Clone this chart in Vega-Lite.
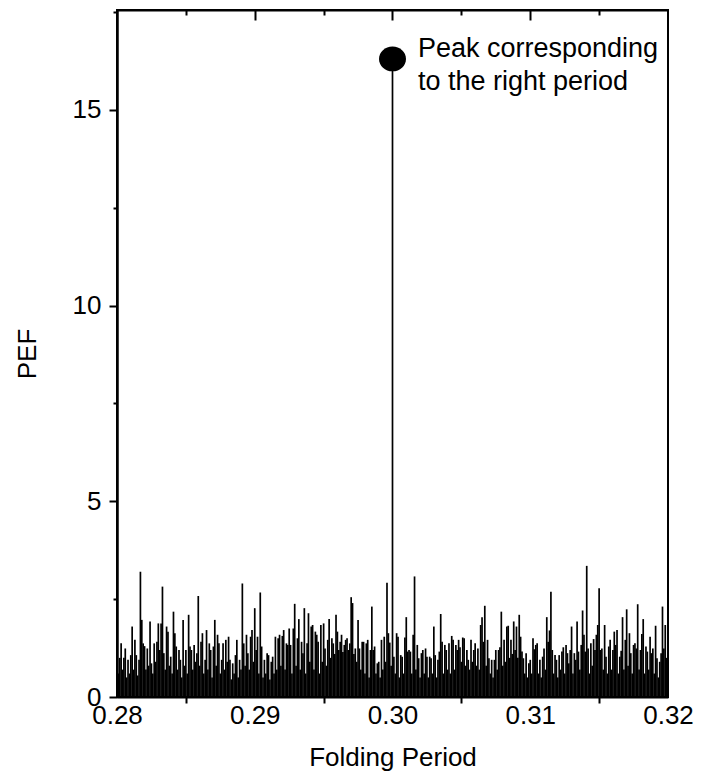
{
"$schema": "https://vega.github.io/schema/vega-lite/v6.json",
"width": 551,
"height": 687,
"autosize": {"type": "none"},
"padding": {"left": 117, "top": 10, "right": 41, "bottom": 80},
"background": "white",
"config": {"view": {"stroke": "black", "strokeWidth": 2}, "font": "Liberation Sans"},
"data": {"values": [
{"p":0.2800,"v":0.9},{"p":0.2801,"v":0.6},{"p":0.2802,"v":1.0},{"p":0.2803,"v":1.37},{"p":0.2804,"v":0.7},{"p":0.2805,"v":1.0},{"p":0.2806,"v":1.24},{"p":0.2807,"v":0.5},{"p":0.2808,"v":0.95},{"p":0.2809,"v":0.6},
{"p":0.2810,"v":1.07},{"p":0.2811,"v":1.8},{"p":0.2812,"v":0.7},{"p":0.2813,"v":1.46},{"p":0.2814,"v":1.07},{"p":0.2815,"v":0.55},{"p":0.2816,"v":0.95},{"p":0.2817,"v":3.2},{"p":0.2818,"v":1.97},{"p":0.2819,"v":1.37},
{"p":0.2820,"v":1.3},{"p":0.2821,"v":0.7},{"p":0.2822,"v":1.24},{"p":0.2823,"v":0.8},{"p":0.2824,"v":1.93},{"p":0.2825,"v":0.86},{"p":0.2826,"v":0.6},{"p":0.2827,"v":1.37},{"p":0.2828,"v":0.9},{"p":0.2829,"v":1.41},
{"p":0.2830,"v":1.88},{"p":0.2831,"v":1.2},{"p":0.2832,"v":1.88},{"p":0.2833,"v":2.82},{"p":0.2834,"v":1.12},{"p":0.2835,"v":0.7},{"p":0.2836,"v":1.8},{"p":0.2837,"v":1.67},{"p":0.2838,"v":0.8},{"p":0.2839,"v":1.03},
{"p":0.2840,"v":0.6},{"p":0.2841,"v":2.18},{"p":0.2842,"v":1.63},{"p":0.2843,"v":1.29},{"p":0.2844,"v":0.7},{"p":0.2845,"v":1.2},{"p":0.2846,"v":0.95},{"p":0.2847,"v":0.5},{"p":0.2848,"v":1.97},{"p":0.2849,"v":0.8},
{"p":0.2850,"v":1.2},{"p":0.2851,"v":0.6},{"p":0.2852,"v":2.1},{"p":0.2853,"v":1.29},{"p":0.2854,"v":1.2},{"p":0.2855,"v":0.7},{"p":0.2856,"v":1.33},{"p":0.2857,"v":0.9},{"p":0.2858,"v":1.12},{"p":0.2859,"v":2.58},
{"p":0.2860,"v":0.8},{"p":0.2861,"v":1.41},{"p":0.2862,"v":1.63},{"p":0.2863,"v":0.6},{"p":0.2864,"v":0.95},{"p":0.2865,"v":1.71},{"p":0.2866,"v":0.7},{"p":0.2867,"v":1.37},{"p":0.2868,"v":1.2},{"p":0.2869,"v":0.5},
{"p":0.2870,"v":1.29},{"p":0.2871,"v":1.97},{"p":0.2872,"v":0.8},{"p":0.2873,"v":1.59},{"p":0.2874,"v":1.37},{"p":0.2875,"v":0.6},{"p":0.2876,"v":0.95},{"p":0.2877,"v":1.37},{"p":0.2878,"v":0.7},{"p":0.2879,"v":1.46},
{"p":0.2880,"v":0.9},{"p":0.2881,"v":1.54},{"p":0.2882,"v":0.95},{"p":0.2883,"v":0.45},{"p":0.2884,"v":0.86},{"p":0.2885,"v":0.6},{"p":0.2886,"v":1.07},{"p":0.2887,"v":1.46},{"p":0.2888,"v":0.5},{"p":0.2889,"v":0.95},
{"p":0.2890,"v":0.7},{"p":0.2891,"v":2.9},{"p":0.2892,"v":1.37},{"p":0.2893,"v":0.8},{"p":0.2894,"v":1.59},{"p":0.2895,"v":1.12},{"p":0.2896,"v":0.7},{"p":0.2897,"v":1.54},{"p":0.2898,"v":1.71},{"p":0.2899,"v":0.9},
{"p":0.2900,"v":2.27},{"p":0.2901,"v":1.2},{"p":0.2902,"v":1.54},{"p":0.2903,"v":0.6},{"p":0.2904,"v":2.67},{"p":0.2905,"v":1.29},{"p":0.2906,"v":0.5},{"p":0.2907,"v":0.95},{"p":0.2908,"v":0.6},{"p":0.2909,"v":1.12},
{"p":0.2910,"v":1.07},{"p":0.2911,"v":0.45},{"p":0.2912,"v":0.9},{"p":0.2913,"v":1.03},{"p":0.2914,"v":0.6},{"p":0.2915,"v":1.54},{"p":0.2916,"v":0.7},{"p":0.2917,"v":1.5},{"p":0.2918,"v":1.59},{"p":0.2919,"v":0.8},
{"p":0.2920,"v":1.56},{"p":0.2921,"v":1.71},{"p":0.2922,"v":0.7},{"p":0.2923,"v":1.37},{"p":0.2924,"v":1.33},{"p":0.2925,"v":1.75},{"p":0.2926,"v":1.33},{"p":0.2927,"v":0.6},{"p":0.2928,"v":1.75},{"p":0.2929,"v":2.38},
{"p":0.2930,"v":0.8},{"p":0.2931,"v":1.5},{"p":0.2932,"v":1.99},{"p":0.2933,"v":0.7},{"p":0.2934,"v":1.41},{"p":0.2935,"v":1.12},{"p":0.2936,"v":2.27},{"p":0.2937,"v":0.6},{"p":0.2938,"v":1.37},{"p":0.2939,"v":2.14},
{"p":0.2940,"v":0.9},{"p":0.2941,"v":1.8},{"p":0.2942,"v":1.84},{"p":0.2943,"v":0.7},{"p":0.2944,"v":1.67},{"p":0.2945,"v":1.59},{"p":0.2946,"v":1.41},{"p":0.2947,"v":0.6},{"p":0.2948,"v":1.84},{"p":0.2949,"v":0.9},
{"p":0.2950,"v":1.88},{"p":0.2951,"v":1.24},{"p":0.2952,"v":0.8},{"p":0.2953,"v":1.46},{"p":0.2954,"v":1.99},{"p":0.2955,"v":1.0},{"p":0.2956,"v":1.5},{"p":0.2957,"v":1.37},{"p":0.2958,"v":1.1},{"p":0.2959,"v":2.1},
{"p":0.2960,"v":1.67},{"p":0.2961,"v":1.2},{"p":0.2962,"v":1.41},{"p":0.2963,"v":1.59},{"p":0.2964,"v":1.15},{"p":0.2965,"v":1.33},{"p":0.2966,"v":1.46},{"p":0.2967,"v":1.5},{"p":0.2968,"v":1.2},{"p":0.2969,"v":1.37},
{"p":0.2970,"v":2.55},{"p":0.2971,"v":2.4},{"p":0.2972,"v":1.1},{"p":0.2973,"v":1.24},{"p":0.2974,"v":0.9},{"p":0.2975,"v":1.97},{"p":0.2976,"v":1.24},{"p":0.2977,"v":0.7},{"p":0.2978,"v":1.41},{"p":0.2979,"v":1.41},
{"p":0.2980,"v":0.6},{"p":0.2981,"v":1.37},{"p":0.2982,"v":1.46},{"p":0.2983,"v":0.5},{"p":0.2984,"v":1.2},{"p":0.2985,"v":2.31},{"p":0.2986,"v":1.2},{"p":0.2987,"v":1.29},{"p":0.2988,"v":0.6},{"p":0.2989,"v":0.86},
{"p":0.2990,"v":0.9},{"p":0.2991,"v":0.5},{"p":0.2992,"v":1.46},{"p":0.2993,"v":0.7},{"p":0.2994,"v":1.54},{"p":0.2995,"v":0.9},{"p":0.2996,"v":2.92},{"p":0.2997,"v":1.63},{"p":0.2998,"v":1.39},{"p":0.2999,"v":0.8},
{"p":0.3000,"v":16.3},{"p":0.3001,"v":1.03},{"p":0.3002,"v":0.6},{"p":0.3003,"v":1.63},{"p":0.3004,"v":1.54},{"p":0.3005,"v":0.5},{"p":0.3006,"v":1.07},{"p":0.3007,"v":1.03},{"p":0.3008,"v":0.6},{"p":0.3009,"v":1.52},
{"p":0.3010,"v":2.04},{"p":0.3011,"v":1.16},{"p":0.3012,"v":1.2},{"p":0.3013,"v":1.16},{"p":0.3014,"v":0.6},{"p":0.3015,"v":1.59},{"p":0.3016,"v":3.08},{"p":0.3017,"v":0.7},{"p":0.3018,"v":1.33},{"p":0.3019,"v":0.99},
{"p":0.3020,"v":0.5},{"p":0.3021,"v":1.12},{"p":0.3022,"v":1.2},{"p":0.3023,"v":0.6},{"p":0.3024,"v":1.24},{"p":0.3025,"v":1.03},{"p":0.3026,"v":0.5},{"p":0.3027,"v":1.03},{"p":0.3028,"v":0.99},{"p":0.3029,"v":0.6},
{"p":0.3030,"v":1.8},{"p":0.3031,"v":1.07},{"p":0.3032,"v":0.5},{"p":0.3033,"v":0.95},{"p":0.3034,"v":1.16},{"p":0.3035,"v":2.12},{"p":0.3036,"v":1.41},{"p":0.3037,"v":0.6},{"p":0.3038,"v":1.33},{"p":0.3039,"v":1.2},
{"p":0.3040,"v":0.7},{"p":0.3041,"v":1.37},{"p":0.3042,"v":0.6},{"p":0.3043,"v":1.56},{"p":0.3044,"v":1.46},{"p":0.3045,"v":0.7},{"p":0.3046,"v":1.33},{"p":0.3047,"v":1.2},{"p":0.3048,"v":1.46},{"p":0.3049,"v":1.27},
{"p":0.3050,"v":0.9},{"p":0.3051,"v":1.52},{"p":0.3052,"v":1.5},{"p":0.3053,"v":0.8},{"p":0.3054,"v":1.2},{"p":0.3055,"v":0.95},{"p":0.3056,"v":0.7},{"p":0.3057,"v":1.46},{"p":0.3058,"v":0.9},{"p":0.3059,"v":1.2},
{"p":0.3060,"v":1.37},{"p":0.3061,"v":0.8},{"p":0.3062,"v":1.24},{"p":0.3063,"v":0.7},{"p":0.3064,"v":1.84},{"p":0.3065,"v":2.04},{"p":0.3066,"v":1.41},{"p":0.3067,"v":2.33},{"p":0.3068,"v":0.8},{"p":0.3069,"v":1.46},
{"p":0.3070,"v":0.99},{"p":0.3071,"v":0.6},{"p":0.3072,"v":0.95},{"p":0.3073,"v":0.5},{"p":0.3074,"v":0.95},{"p":0.3075,"v":1.2},{"p":0.3076,"v":0.7},{"p":0.3077,"v":1.2},{"p":0.3078,"v":1.27},{"p":0.3079,"v":2.18},
{"p":0.3080,"v":0.8},{"p":0.3081,"v":1.46},{"p":0.3082,"v":0.9},{"p":0.3083,"v":1.8},{"p":0.3084,"v":1.82},{"p":0.3085,"v":1.0},{"p":0.3086,"v":1.46},{"p":0.3087,"v":1.1},{"p":0.3088,"v":1.93},{"p":0.3089,"v":1.2},
{"p":0.3090,"v":1.8},{"p":0.3091,"v":1.0},{"p":0.3092,"v":2.1},{"p":0.3093,"v":1.54},{"p":0.3094,"v":1.16},{"p":0.3095,"v":0.99},{"p":0.3096,"v":0.6},{"p":0.3097,"v":1.12},{"p":0.3098,"v":0.5},{"p":0.3099,"v":0.86},
{"p":0.3100,"v":0.95},{"p":0.3101,"v":0.6},{"p":0.3102,"v":1.5},{"p":0.3103,"v":1.22},{"p":0.3104,"v":1.33},{"p":0.3105,"v":1.37},{"p":0.3106,"v":0.6},{"p":0.3107,"v":0.95},{"p":0.3108,"v":0.5},{"p":0.3109,"v":1.03},
{"p":0.3110,"v":1.24},{"p":0.3111,"v":0.7},{"p":0.3112,"v":2.04},{"p":0.3113,"v":1.41},{"p":0.3114,"v":1.7},{"p":0.3115,"v":2.69},{"p":0.3116,"v":1.2},{"p":0.3117,"v":0.6},{"p":0.3118,"v":1.07},{"p":0.3119,"v":0.95},
{"p":0.3120,"v":0.5},{"p":0.3121,"v":1.07},{"p":0.3122,"v":0.7},{"p":0.3123,"v":1.16},{"p":0.3124,"v":1.27},{"p":0.3125,"v":0.6},{"p":0.3126,"v":1.33},{"p":0.3127,"v":1.12},{"p":0.3128,"v":0.86},{"p":0.3129,"v":1.2},
{"p":0.3130,"v":1.8},{"p":0.3131,"v":0.6},{"p":0.3132,"v":1.12},{"p":0.3133,"v":0.95},{"p":0.3134,"v":1.93},{"p":0.3135,"v":1.16},{"p":0.3136,"v":0.7},{"p":0.3137,"v":1.33},{"p":0.3138,"v":2.21},{"p":0.3139,"v":1.59},
{"p":0.3140,"v":1.16},{"p":0.3141,"v":3.35},{"p":0.3142,"v":1.24},{"p":0.3143,"v":0.6},{"p":0.3144,"v":1.37},{"p":0.3145,"v":0.8},{"p":0.3146,"v":1.48},{"p":0.3147,"v":1.2},{"p":0.3148,"v":1.59},{"p":0.3149,"v":1.84},
{"p":0.3150,"v":2.78},{"p":0.3151,"v":1.2},{"p":0.3152,"v":1.24},{"p":0.3153,"v":0.7},{"p":0.3154,"v":1.84},{"p":0.3155,"v":1.03},{"p":0.3156,"v":0.6},{"p":0.3157,"v":1.29},{"p":0.3158,"v":1.46},{"p":0.3159,"v":0.7},
{"p":0.3160,"v":1.2},{"p":0.3161,"v":1.67},{"p":0.3162,"v":1.33},{"p":0.3163,"v":1.71},{"p":0.3164,"v":0.6},{"p":0.3165,"v":1.03},{"p":0.3166,"v":1.18},{"p":0.3167,"v":2.04},{"p":0.3168,"v":0.7},{"p":0.3169,"v":1.46},
{"p":0.3170,"v":2.24},{"p":0.3171,"v":0.8},{"p":0.3172,"v":1.63},{"p":0.3173,"v":1.12},{"p":0.3174,"v":0.6},{"p":0.3175,"v":1.33},{"p":0.3176,"v":1.37},{"p":0.3177,"v":1.24},{"p":0.3178,"v":2.37},{"p":0.3179,"v":0.7},
{"p":0.3180,"v":1.2},{"p":0.3181,"v":1.61},{"p":0.3182,"v":1.99},{"p":0.3183,"v":0.6},{"p":0.3184,"v":1.29},{"p":0.3185,"v":1.16},{"p":0.3186,"v":0.7},{"p":0.3187,"v":1.54},{"p":0.3188,"v":1.12},{"p":0.3189,"v":1.24},
{"p":0.3190,"v":0.6},{"p":0.3191,"v":1.82},{"p":0.3192,"v":0.99},{"p":0.3193,"v":0.5},{"p":0.3194,"v":0.9},{"p":0.3195,"v":1.12},{"p":0.3196,"v":2.31},{"p":0.3197,"v":1.24},{"p":0.3198,"v":1.84},{"p":0.3199,"v":1.0}
]},
"layer": [
{
"mark": {"type": "rule", "color": "#000000", "strokeWidth": 1.7},
"encoding": {
"x": {"field": "p", "type": "quantitative", "scale": {"domain": [0.28, 0.32], "nice": false, "zero": false},
"axis": {"title": "Folding Period", "values": [0.28, 0.285, 0.29, 0.295, 0.3, 0.305, 0.31, 0.315, 0.32],
"labelExpr": "abs(datum.value*100-round(datum.value*100))<0.1 ? format(datum.value,'.2f') : ''",
"tickSize": 6, "tickOpacity": {"condition": {"test": "abs(datum.value*100-round(datum.value*100))<0.1", "value": 0}, "value": 1},
"labelPadding": -1, "labelFlush": false, "labelOverlap": false, "labelBound": false, "grid": false,
"domainColor": "black", "domainWidth": 2, "tickColor": "black", "tickWidth": 2,
"labelFontSize": 26, "labelColor": "black", "titleFontSize": 26, "titleColor": "black", "titleFontWeight": "normal",
"titleX": 275.5, "titleY": 60, "titleBaseline": "middle", "titleAlign": "center"}},
"y": {"field": "v", "type": "quantitative", "title": "PEF", "scale": {"domain": [0, 17.55], "nice": false},
"axis": {"title": "PEF", "values": [0, 2.5, 5, 7.5, 10, 12.5, 15, 17.5],
"labelExpr": "datum.value % 5 === 0 ? format(datum.value,'d') : ''",
"tickSize": {"condition": {"test": "datum.value % 5 === 0", "value": 8}, "value": 4},
"labelPadding": 8, "labelOverlap": false, "labelBound": false, "grid": false,
"domainColor": "black", "domainWidth": 2.5, "tickColor": "black", "tickWidth": 2,
"labelFontSize": 26, "labelColor": "black", "titleFontSize": 26, "titleColor": "black", "titleFontWeight": "normal",
"titleX": -90, "titleY": 343.5, "titleAngle": -90, "titleAlign": "center", "titleBaseline": "middle"}},
"y2": {"datum": 0}
}
},
{
"transform": [{"filter": "datum.v > 10"}],
"mark": {"type": "point", "filled": true, "shape": "M-1,0A1,0.92,0,1,1,1,0A1,0.92,0,1,1,-1,0Z", "size": 729, "color": "black", "opacity": 1},
"encoding": {
"x": {"field": "p", "type": "quantitative",
"axis": {"orient": "top", "values": [0.285, 0.29, 0.295, 0.3, 0.305, 0.31, 0.315], "labels": false, "title": null, "grid": false,
"domainColor": "black", "domainWidth": 2, "tickColor": "black", "tickWidth": 2,
"tickSize": {"condition": {"test": "abs(datum.value*100-round(datum.value*100))<0.1", "value": -10}, "value": -5}}},
"y": {"field": "v", "type": "quantitative", "title": "PEF"}
}
},
{
"data": {"values": [{"note": "Peak corresponding\nto the right period"}]},
"mark": {"type": "text", "align": "left", "baseline": "alphabetic", "fontSize": 27, "lineHeight": 33, "lineBreak": "\n", "color": "black", "font": "Liberation Sans"},
"encoding": {
"x": {"datum": 0.30185, "type": "quantitative", "axis": null},
"y": {"datum": 16.35, "type": "quantitative"},
"text": {"field": "note"}
}
}
],
"resolve": {"axis": {"x": "independent"}}
}
